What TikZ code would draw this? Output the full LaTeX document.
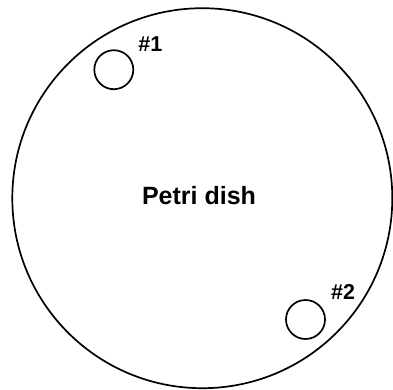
\documentclass[tikz,border=0pt]{standalone}
\usepackage{fontspec}
\setmainfont{Liberation Sans}
\usetikzlibrary{positioning}

\begin{document}
\begin{tikzpicture}[x=1pt,y=-1pt,
  dish/.style={draw=black,circle,line width=1.7pt,inner sep=0pt,
               minimum size=380pt},
  well/.style={draw=black,circle,line width=1.7pt,inner sep=0pt,
               minimum size=39pt},
  lbl/.style={font=\bfseries\fontsize{21.5}{24}\selectfont,inner sep=0pt}]
  \useasboundingbox (0,0) rectangle (393,389);
  \node[dish](D) at (202.3,198.2){};
  \node[lbl,font=\bfseries\fontsize{25}{28}\selectfont](DL) at (199,195.5){Petri dish};
  \node[well](W1) at (113.8,69.7){};
  \node[lbl](L1) at (150.3,44.2){\#1};
  \node[well](W2) at (305.5,319.5){};
  \node[lbl](L2) at (343,292){\#2};
\end{tikzpicture}
\end{document}
